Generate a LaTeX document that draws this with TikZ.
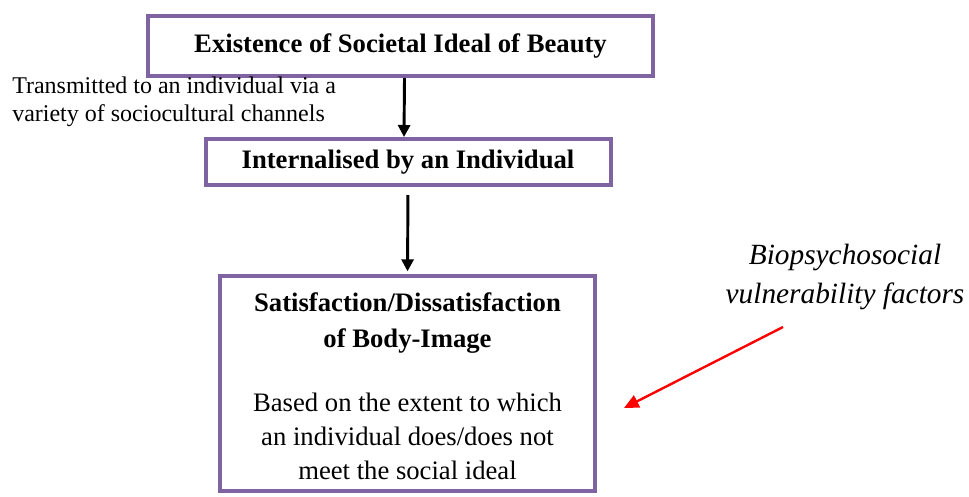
\documentclass[tikz,border=0pt]{standalone}
\usepackage{fontspec}
\setmainfont{Liberation Serif}
\usetikzlibrary{positioning, arrows.meta}
\definecolor{boxpurple}{HTML}{8064A2}
\tikzset{
box/.style={draw=boxpurple, line width=3pt, rectangle, inner sep=0pt},
flow/.style={-{Triangle[length=9pt,width=9pt]}, line width=2.2pt},
redflow/.style={-{Triangle[length=11pt,width=10pt]}, line width=1.8pt, red},
hidden/.style={draw opacity=0, inner sep=0pt},
}

\begin{document}
\begin{tikzpicture}[x=0.75pt, y=-0.75pt]
    \useasboundingbox (0,0) rectangle (969,496);

    \node[box, minimum width=378.75pt, minimum height=45pt] (ideal) at (400.5,46) {};
    \node[box, minimum width=303.75pt, minimum height=34.5pt] (intern) at (408,162) {};
    \node[box, minimum width=281.25pt, minimum height=161.25pt] (satis) at (407.5,383.5) {};

    %lables
    \node[hidden, font=\fontsize{20}{24}\selectfont\bfseries] at (ideal) {Existence of Societal Ideal of Beauty};
    \node[hidden, font=\fontsize{20}{24}\selectfont\bfseries] at (intern) {Internalised by an Individual};
    \node[hidden, align=center, font=\fontsize{20}{27}\selectfont\bfseries] (sattitle) at (407.5,323) {Satisfaction/Dissatisfaction\\ of Body-Image};
    \node[hidden, align=center, font=\fontsize{20}{25.5}\selectfont] (satbody) at (407.5,436.5) {Based on the extent to which\\ an individual does/does not\\ meet the social ideal};
    \node[hidden, anchor=west, align=left, font=\fontsize{18}{21}\selectfont] (chan) at (12,102) {Transmitted to an individual via a\\ variety of sociocultural channels};
    \node[hidden, align=center, font=\fontsize{22}{29.5}\selectfont\itshape] (bio) at (845,277) {Biopsychosocial\\ vulnerability factors};

    \coordinate (vstart) at (783,327);
    \coordinate (vend) at (624,408);

    \draw[flow] ([xshift=3pt]ideal.south) -- ([xshift=-3pt]intern.north);
    \draw[flow, shorten <=6pt, shorten >=2pt] (intern.south) -- (satis.north);
    \draw[redflow] (vstart) -- (vend);
\end{tikzpicture}
\end{document}
